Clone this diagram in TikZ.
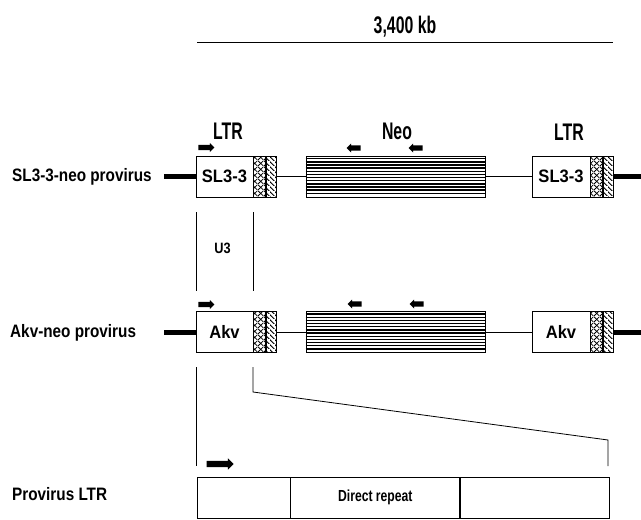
\documentclass[tikz,border=0pt]{standalone}
\usepackage{fontspec}
\setmainfont{Liberation Sans}
\newfontfamily\topfont{Liberation Sans}[FakeStretch=0.66]
\newfontfamily\rowfont{Liberation Sans}[FakeStretch=0.85]
\newfontfamily\boxfont{Liberation Sans}[FakeStretch=0.92]
\newfontfamily\segfont{Liberation Sans}[FakeStretch=0.76]
\usetikzlibrary{shapes.arrows,patterns.meta,positioning,calc}
\tikzdeclarepattern{
    name=xhatch, bounding box={(0pt,0pt) and (6pt,6pt)}, tile size={(6pt,6pt)},
    code={\draw[line width=0.9pt] (0pt,0pt) -- (6pt,6pt) (0pt,6pt) -- (6pt,0pt);}
}
\tikzdeclarepattern{
    name=dhatch, bounding box={(0pt,0pt) and (4.5pt,4.5pt)}, tile size={(4.5pt,4.5pt)},
    code={\draw[line width=1pt] (-0.5pt,5pt) -- (5pt,-0.5pt);}
}
\tikzset{
    lbl/.style={font=\topfont\fontsize{24}{26}\selectfont\bfseries, inner sep=0pt, anchor=base},
    rowlbl/.style={font=\rowfont\fontsize{18}{20}\selectfont\bfseries, inner sep=0pt, anchor=base west},
    ubox/.style={draw, fill=white, line width=0.9pt, minimum height=41pt,
                 inner sep=0pt, font=\boxfont\fontsize{18}{20}\selectfont\bfseries},
    xbox/.style={draw, line width=0.9pt, minimum height=41pt, minimum width=12pt,
                 inner sep=0pt, pattern=xhatch},
    dbox/.style={draw, line width=0.9pt, minimum height=41pt, minimum width=10pt,
                 inner sep=0pt, pattern=dhatch},
    neobox/.style={draw, line width=1pt, minimum height=41pt, minimum width=179pt,
                   inner sep=0pt},
    segbox/.style={draw, line width=0.8pt, minimum height=41pt, inner sep=0pt,
                   font=\segfont\fontsize{16}{18}\selectfont\bfseries},
    rarr/.style={single arrow, fill=black, draw=none, inner sep=2.5pt,
                 minimum height=16pt, single arrow head extend=1.8pt},
    larr/.style={rarr, minimum height=14pt, shape border rotate=180},
    flank/.style={line width=5pt},
    thinline/.style={line width=0.8pt},
}
\begin{document}
\begin{tikzpicture}[x=1pt, y=-1pt]
    \useasboundingbox (0,0) rectangle (641,520);

    % scale bar
    \node[lbl] (kb) at (405,33) {3,400 kb};
    \coordinate (sbl) at (197,42);
    \coordinate (sbr) at (613,42);
    \draw[thinline] (sbl) -- (sbr);

    % SL3-3-neo provirus
    \node[rowlbl] (row1) at (12,181.5) {SL3-3-neo provirus};
    \node[ubox, minimum width=57pt] (sla) at (224.5,176.5) {SL3-3};
    \node[xbox, right=0pt of sla] (slax) {};
    \node[dbox, right=0pt of slax] (slad) {};
    \node[neobox] (neoa) at (395.5,176.5) {};
    \foreach \k in {1,...,12}
        \draw[line width=1.4pt] ($(neoa.north west)+(0,\k*3.15)$) -- ($(neoa.north east)+(0,\k*3.15)$);
    \node[ubox, minimum width=58pt] (slb) at (561,176.5) {SL3-3};
    \node[xbox, right=0pt of slb] (slbx) {};
    \node[dbox, right=0pt of slbx] (slbd) {};
    \coordinate (ina) at (164,176.5);
    \coordinate (outa) at (641,176.5);
    \draw[flank] (ina) -- (sla);
    \draw[flank] (slbd) -- (outa);
    \draw[thinline] (slad) -- (neoa);
    \draw[thinline] (neoa) -- (slb);
    \node[lbl] (ltra) at (228,139.5) {LTR};
    \node[lbl] (neo) at (397,139.5) {Neo};
    \node[lbl] (ltrb) at (569,140) {LTR};
    \node[rarr] (ara) at (205,147.5) {};
    \node[larr] (arb) at (355,148) {};
    \node[larr] (arc) at (417,148) {};

    % U3
    \coordinate (u1) at (196,212);
    \coordinate (u2) at (196,291);
    \coordinate (u3) at (253,212);
    \coordinate (u4) at (253,291);
    \draw[thinline] (u1) -- (u2);
    \draw[thinline] (u3) -- (u4);
    \node[font=\rowfont\fontsize{15}{17}\selectfont\bfseries, inner sep=0pt, anchor=base] (u3lbl) at (222.5,253) {U3};

    % Akv-neo provirus
    \node[rowlbl] (row2) at (10,337.5) {Akv-neo provirus};
    \node[ubox, minimum width=57pt] (akva) at (224.5,332) {Akv};
    \node[xbox, right=0pt of akva] (akvax) {};
    \node[dbox, right=0pt of akvax] (akvad) {};
    \node[neobox] (neob) at (395.5,332) {};
    \foreach \k in {1,...,12}
        \draw[line width=1.4pt] ($(neob.north west)+(0,\k*3.15)$) -- ($(neob.north east)+(0,\k*3.15)$);
    \node[ubox, minimum width=58pt] (akvb) at (561,332) {Akv};
    \node[xbox, right=0pt of akvb] (akvbx) {};
    \node[dbox, right=0pt of akvbx] (akvbd) {};
    \coordinate (inb) at (164,332);
    \coordinate (outb) at (641,332);
    \draw[flank] (inb) -- (akva);
    \draw[flank] (akvbd) -- (outb);
    \draw[thinline] (akvad) -- (neob);
    \draw[thinline] (neob) -- (akvb);
    \node[rarr] (ard) at (205,304.5) {};
    \node[larr] (are) at (356,304) {};
    \node[larr] (arf) at (418,304) {};

    % expansion
    \coordinate (z1) at (196,367);
    \coordinate (z2) at (196,466);
    \coordinate (z3) at (253,367);
    \coordinate (z4) at (253,392);
    \coordinate (z5) at (608,440);
    \coordinate (z6) at (608,466);
    \draw[thinline] (z1) -- (z2);
    \draw[thinline] (z3) -- (z4) -- (z5) -- (z6);

    % Provirus LTR
    \node[rowlbl] (row3) at (12,500) {Provirus LTR};
    \node[segbox, minimum width=93pt] (pla) at (243.5,497.5) {};
    \node[segbox, minimum width=169pt, right=0pt of pla] (plb) {Direct repeat};
    \node[segbox, minimum width=149pt, right=0pt of plb] (plc) {};
    \node[rarr, inner sep=3pt, minimum height=27pt, single arrow head extend=2.5pt] (arg) at (218.5,464) {};
\end{tikzpicture}
\end{document}
